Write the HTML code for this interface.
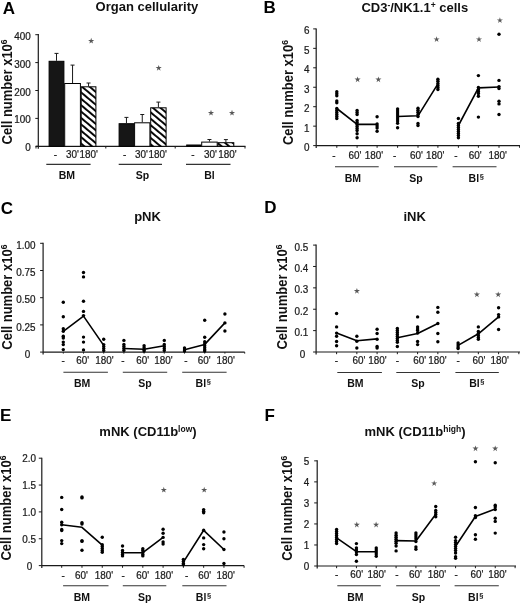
<!DOCTYPE html>
<html><head><meta charset="utf-8"><style>
html,body{margin:0;padding:0;background:#fff;}
svg{display:block;font-family:"Liberation Sans", sans-serif;will-change:transform;}
</style></head><body>
<svg width="520" height="603" viewBox="0 0 520 603">
<defs><filter id="soft" x="0" y="0" width="100%" height="100%" filterUnits="userSpaceOnUse"><feGaussianBlur stdDeviation="0.35"/></filter><pattern id="hatch" patternUnits="userSpaceOnUse" width="4.9" height="4.9" patternTransform="rotate(-50)"><rect width="4.9" height="4.9" fill="#fff"/><rect x="0" y="0" width="1.9" height="4.9" fill="#000"/></pattern></defs>
<rect width="520" height="603" fill="#fff"/>
<g>
<text x="2.70" y="14.10" font-size="17" font-weight="bold" text-anchor="start" fill="#000" >A</text>
<text x="146.90" y="11.40" font-size="13" font-weight="bold" text-anchor="middle" fill="#111" >Organ cellularity</text>
<text transform="translate(11.60,144.50) rotate(-90) scale(1,1.08)" font-size="13" font-weight="bold" fill="#111">Cell number x10<tspan font-size="8.5" dy="-4.5">6</tspan></text>
<line x1="38.30" y1="34.10" x2="38.30" y2="148.80" stroke="#1a1a1a" stroke-width="1.2"/>
<line x1="35.30" y1="34.70" x2="38.30" y2="34.70" stroke="#1a1a1a" stroke-width="1"/>
<text transform="translate(30.80,39.70) scale(0.9,1)" font-size="11" font-weight="normal" text-anchor="end" fill="#1a1a1a" stroke="#1a1a1a" stroke-width="0.25">400</text>
<line x1="35.30" y1="62.60" x2="38.30" y2="62.60" stroke="#1a1a1a" stroke-width="1"/>
<text transform="translate(30.80,67.60) scale(0.9,1)" font-size="11" font-weight="normal" text-anchor="end" fill="#1a1a1a" stroke="#1a1a1a" stroke-width="0.25">300</text>
<line x1="35.30" y1="90.50" x2="38.30" y2="90.50" stroke="#1a1a1a" stroke-width="1"/>
<text transform="translate(30.80,95.50) scale(0.9,1)" font-size="11" font-weight="normal" text-anchor="end" fill="#1a1a1a" stroke="#1a1a1a" stroke-width="0.25">200</text>
<line x1="35.30" y1="118.40" x2="38.30" y2="118.40" stroke="#1a1a1a" stroke-width="1"/>
<text transform="translate(30.80,123.40) scale(0.9,1)" font-size="11" font-weight="normal" text-anchor="end" fill="#1a1a1a" stroke="#1a1a1a" stroke-width="0.25">100</text>
<line x1="35.30" y1="146.30" x2="38.30" y2="146.30" stroke="#1a1a1a" stroke-width="1"/>
<text transform="translate(30.80,151.30) scale(0.9,1)" font-size="11" font-weight="normal" text-anchor="end" fill="#1a1a1a" stroke="#1a1a1a" stroke-width="0.25">0</text>
<line x1="36.00" y1="146.30" x2="245.50" y2="146.30" stroke="#1a1a1a" stroke-width="1.2"/>
<line x1="36.00" y1="146.30" x2="36.00" y2="148.50" stroke="#1a1a1a" stroke-width="1"/>
<line x1="105.80" y1="146.30" x2="105.80" y2="148.50" stroke="#1a1a1a" stroke-width="1"/>
<line x1="175.20" y1="146.30" x2="175.20" y2="148.50" stroke="#1a1a1a" stroke-width="1"/>
<line x1="245.00" y1="146.30" x2="245.00" y2="148.50" stroke="#1a1a1a" stroke-width="1"/>
<rect x="49.10" y="61.30" width="14.80" height="85.00" fill="#161616" stroke="#000" stroke-width="1"/>
<line x1="56.50" y1="53.40" x2="56.50" y2="60.80" stroke="#1a1a1a" stroke-width="1"/>
<line x1="54.50" y1="53.40" x2="58.50" y2="53.40" stroke="#1a1a1a" stroke-width="1"/>
<rect x="64.70" y="83.50" width="15.70" height="62.80" fill="#fff" stroke="#000" stroke-width="1"/>
<line x1="72.55" y1="65.10" x2="72.55" y2="83.00" stroke="#1a1a1a" stroke-width="1"/>
<line x1="70.55" y1="65.10" x2="74.55" y2="65.10" stroke="#1a1a1a" stroke-width="1"/>
<rect x="81.20" y="86.80" width="14.70" height="59.50" fill="url(#hatch)" stroke="#000" stroke-width="1"/>
<line x1="88.55" y1="83.00" x2="88.55" y2="86.30" stroke="#1a1a1a" stroke-width="1"/>
<line x1="86.55" y1="83.00" x2="90.55" y2="83.00" stroke="#1a1a1a" stroke-width="1"/>
<rect x="119.10" y="123.70" width="14.70" height="22.60" fill="#161616" stroke="#000" stroke-width="1"/>
<line x1="126.45" y1="117.40" x2="126.45" y2="123.20" stroke="#1a1a1a" stroke-width="1"/>
<line x1="124.45" y1="117.40" x2="128.45" y2="117.40" stroke="#1a1a1a" stroke-width="1"/>
<rect x="134.60" y="122.80" width="15.30" height="23.50" fill="#fff" stroke="#000" stroke-width="1"/>
<line x1="142.25" y1="114.50" x2="142.25" y2="122.30" stroke="#1a1a1a" stroke-width="1"/>
<line x1="140.25" y1="114.50" x2="144.25" y2="114.50" stroke="#1a1a1a" stroke-width="1"/>
<rect x="150.70" y="107.80" width="15.40" height="38.50" fill="url(#hatch)" stroke="#000" stroke-width="1"/>
<line x1="158.40" y1="102.10" x2="158.40" y2="107.30" stroke="#1a1a1a" stroke-width="1"/>
<line x1="156.40" y1="102.10" x2="160.40" y2="102.10" stroke="#1a1a1a" stroke-width="1"/>
<rect x="186.70" y="145.00" width="14.20" height="1.30" fill="#161616" stroke="#000" stroke-width="1"/>
<rect x="201.70" y="142.10" width="15.50" height="4.20" fill="#fff" stroke="#000" stroke-width="1"/>
<line x1="209.45" y1="139.50" x2="209.45" y2="141.60" stroke="#1a1a1a" stroke-width="1"/>
<line x1="207.45" y1="139.50" x2="211.45" y2="139.50" stroke="#1a1a1a" stroke-width="1"/>
<rect x="218.00" y="142.70" width="15.80" height="3.60" fill="url(#hatch)" stroke="#000" stroke-width="1"/>
<line x1="225.90" y1="139.60" x2="225.90" y2="142.20" stroke="#1a1a1a" stroke-width="1"/>
<line x1="223.90" y1="139.60" x2="227.90" y2="139.60" stroke="#1a1a1a" stroke-width="1"/>
<text transform="translate(55.40,158.30) scale(0.9,1)" font-size="11" font-weight="normal" text-anchor="middle" fill="#1a1a1a" stroke="#1a1a1a" stroke-width="0.25">-</text>
<text transform="translate(72.35,158.30) scale(0.9,1)" font-size="11" font-weight="normal" text-anchor="middle" fill="#1a1a1a" stroke="#1a1a1a" stroke-width="0.25">30'</text>
<text transform="translate(88.80,158.30) scale(0.9,1)" font-size="11" font-weight="normal" text-anchor="middle" fill="#1a1a1a" stroke="#1a1a1a" stroke-width="0.25">180'</text>
<text transform="translate(124.70,158.30) scale(0.9,1)" font-size="11" font-weight="normal" text-anchor="middle" fill="#1a1a1a" stroke="#1a1a1a" stroke-width="0.25">-</text>
<text transform="translate(141.40,158.30) scale(0.9,1)" font-size="11" font-weight="normal" text-anchor="middle" fill="#1a1a1a" stroke="#1a1a1a" stroke-width="0.25">30'</text>
<text transform="translate(157.70,158.30) scale(0.9,1)" font-size="11" font-weight="normal" text-anchor="middle" fill="#1a1a1a" stroke="#1a1a1a" stroke-width="0.25">180'</text>
<text transform="translate(193.00,158.30) scale(0.9,1)" font-size="11" font-weight="normal" text-anchor="middle" fill="#1a1a1a" stroke="#1a1a1a" stroke-width="0.25">-</text>
<text transform="translate(210.35,158.30) scale(0.9,1)" font-size="11" font-weight="normal" text-anchor="middle" fill="#1a1a1a" stroke="#1a1a1a" stroke-width="0.25">30'</text>
<text transform="translate(227.35,158.30) scale(0.9,1)" font-size="11" font-weight="normal" text-anchor="middle" fill="#1a1a1a" stroke="#1a1a1a" stroke-width="0.25">180'</text>
<line x1="46.30" y1="164.40" x2="90.60" y2="164.40" stroke="#333" stroke-width="1.1"/>
<line x1="118.70" y1="164.40" x2="162.00" y2="164.40" stroke="#333" stroke-width="1.1"/>
<line x1="186.00" y1="164.40" x2="230.50" y2="164.40" stroke="#333" stroke-width="1.1"/>
<text x="66.80" y="178.50" font-size="10.5" font-weight="bold" text-anchor="middle" fill="#111" >BM</text>
<text x="142.50" y="178.50" font-size="10.5" font-weight="bold" text-anchor="middle" fill="#111" >Sp</text>
<text x="209.50" y="178.50" font-size="10.5" font-weight="bold" text-anchor="middle" fill="#111" >Bl</text>
<polygon points="91.20,37.80 91.91,40.02 94.24,40.01 92.36,41.38 93.08,43.59 91.20,42.22 89.32,43.59 90.04,41.38 88.16,40.01 90.49,40.02" fill="#585858"/>
<polygon points="158.70,64.90 159.41,67.12 161.74,67.11 159.86,68.48 160.58,70.69 158.70,69.32 156.82,70.69 157.54,68.48 155.66,67.11 157.99,67.12" fill="#585858"/>
<polygon points="211.00,109.80 211.71,112.02 214.04,112.01 212.16,113.38 212.88,115.59 211.00,114.22 209.12,115.59 209.84,113.38 207.96,112.01 210.29,112.02" fill="#585858"/>
<polygon points="232.00,109.80 232.71,112.02 235.04,112.01 233.16,113.38 233.88,115.59 232.00,114.22 230.12,115.59 230.84,113.38 228.96,112.01 231.29,112.02" fill="#585858"/>
<text x="263.50" y="13.00" font-size="17" font-weight="bold" text-anchor="start" fill="#000" >B</text>
<text x="414.80" y="12.20" font-size="13" font-weight="bold" text-anchor="middle" fill="#111" >CD3<tspan font-size="8.5" dy="-4.5">-</tspan><tspan dy="4.5">/NK1.1</tspan><tspan font-size="8.5" dy="-4.5">+</tspan><tspan dy="4.5"> cells</tspan></text>
<text transform="translate(293.00,145.10) rotate(-90) scale(1,1.08)" font-size="13" font-weight="bold" fill="#111">Cell number x10<tspan font-size="8.5" dy="-4.5">6</tspan></text>
<line x1="316.20" y1="28.40" x2="316.20" y2="148.10" stroke="#1a1a1a" stroke-width="1.2"/>
<line x1="313.20" y1="28.90" x2="316.20" y2="28.90" stroke="#1a1a1a" stroke-width="1"/>
<text transform="translate(309.40,34.40) scale(0.9,1)" font-size="11" font-weight="normal" text-anchor="end" fill="#1a1a1a" stroke="#1a1a1a" stroke-width="0.25">6</text>
<line x1="313.20" y1="48.35" x2="316.20" y2="48.35" stroke="#1a1a1a" stroke-width="1"/>
<text transform="translate(309.40,53.85) scale(0.9,1)" font-size="11" font-weight="normal" text-anchor="end" fill="#1a1a1a" stroke="#1a1a1a" stroke-width="0.25">5</text>
<line x1="313.20" y1="67.80" x2="316.20" y2="67.80" stroke="#1a1a1a" stroke-width="1"/>
<text transform="translate(309.40,73.30) scale(0.9,1)" font-size="11" font-weight="normal" text-anchor="end" fill="#1a1a1a" stroke="#1a1a1a" stroke-width="0.25">4</text>
<line x1="313.20" y1="87.25" x2="316.20" y2="87.25" stroke="#1a1a1a" stroke-width="1"/>
<text transform="translate(309.40,92.75) scale(0.9,1)" font-size="11" font-weight="normal" text-anchor="end" fill="#1a1a1a" stroke="#1a1a1a" stroke-width="0.25">3</text>
<line x1="313.20" y1="106.70" x2="316.20" y2="106.70" stroke="#1a1a1a" stroke-width="1"/>
<text transform="translate(309.40,112.20) scale(0.9,1)" font-size="11" font-weight="normal" text-anchor="end" fill="#1a1a1a" stroke="#1a1a1a" stroke-width="0.25">2</text>
<line x1="313.20" y1="126.15" x2="316.20" y2="126.15" stroke="#1a1a1a" stroke-width="1"/>
<text transform="translate(309.40,131.65) scale(0.9,1)" font-size="11" font-weight="normal" text-anchor="end" fill="#1a1a1a" stroke="#1a1a1a" stroke-width="0.25">1</text>
<line x1="313.20" y1="145.60" x2="316.20" y2="145.60" stroke="#1a1a1a" stroke-width="1"/>
<text transform="translate(309.40,151.10) scale(0.9,1)" font-size="11" font-weight="normal" text-anchor="end" fill="#1a1a1a" stroke="#1a1a1a" stroke-width="0.25">0</text>
<line x1="316.20" y1="145.60" x2="520.00" y2="145.60" stroke="#1a1a1a" stroke-width="1.2"/>
<line x1="336.80" y1="145.60" x2="336.80" y2="147.80" stroke="#1a1a1a" stroke-width="1"/>
<line x1="357.10" y1="145.60" x2="357.10" y2="147.80" stroke="#1a1a1a" stroke-width="1"/>
<line x1="377.10" y1="145.60" x2="377.10" y2="147.80" stroke="#1a1a1a" stroke-width="1"/>
<line x1="397.60" y1="145.60" x2="397.60" y2="147.80" stroke="#1a1a1a" stroke-width="1"/>
<line x1="418.00" y1="145.60" x2="418.00" y2="147.80" stroke="#1a1a1a" stroke-width="1"/>
<line x1="437.90" y1="145.60" x2="437.90" y2="147.80" stroke="#1a1a1a" stroke-width="1"/>
<line x1="458.40" y1="145.60" x2="458.40" y2="147.80" stroke="#1a1a1a" stroke-width="1"/>
<line x1="478.40" y1="145.60" x2="478.40" y2="147.80" stroke="#1a1a1a" stroke-width="1"/>
<line x1="499.00" y1="145.60" x2="499.00" y2="147.80" stroke="#1a1a1a" stroke-width="1"/>
<line x1="519.60" y1="145.60" x2="519.60" y2="147.80" stroke="#1a1a1a" stroke-width="1"/>
<text transform="translate(334.00,159.20) scale(0.9,1)" font-size="11" font-weight="normal" text-anchor="middle" fill="#1a1a1a" stroke="#1a1a1a" stroke-width="0.25">-</text>
<text transform="translate(355.05,159.20) scale(0.9,1)" font-size="11" font-weight="normal" text-anchor="middle" fill="#1a1a1a" stroke="#1a1a1a" stroke-width="0.25">60'</text>
<text transform="translate(373.85,159.20) scale(0.9,1)" font-size="11" font-weight="normal" text-anchor="middle" fill="#1a1a1a" stroke="#1a1a1a" stroke-width="0.25">180'</text>
<text transform="translate(394.60,159.20) scale(0.9,1)" font-size="11" font-weight="normal" text-anchor="middle" fill="#1a1a1a" stroke="#1a1a1a" stroke-width="0.25">-</text>
<text transform="translate(416.40,159.20) scale(0.9,1)" font-size="11" font-weight="normal" text-anchor="middle" fill="#1a1a1a" stroke="#1a1a1a" stroke-width="0.25">60'</text>
<text transform="translate(435.20,159.20) scale(0.9,1)" font-size="11" font-weight="normal" text-anchor="middle" fill="#1a1a1a" stroke="#1a1a1a" stroke-width="0.25">180'</text>
<text transform="translate(455.80,159.20) scale(0.9,1)" font-size="11" font-weight="normal" text-anchor="middle" fill="#1a1a1a" stroke="#1a1a1a" stroke-width="0.25">-</text>
<text transform="translate(475.30,159.20) scale(0.9,1)" font-size="11" font-weight="normal" text-anchor="middle" fill="#1a1a1a" stroke="#1a1a1a" stroke-width="0.25">60'</text>
<text transform="translate(497.70,159.20) scale(0.9,1)" font-size="11" font-weight="normal" text-anchor="middle" fill="#1a1a1a" stroke="#1a1a1a" stroke-width="0.25">180'</text>
<line x1="335.00" y1="166.70" x2="378.70" y2="166.70" stroke="#333" stroke-width="1.1"/>
<line x1="394.00" y1="166.70" x2="437.40" y2="166.70" stroke="#333" stroke-width="1.1"/>
<line x1="452.60" y1="166.70" x2="496.50" y2="166.70" stroke="#333" stroke-width="1.1"/>
<text x="352.90" y="181.70" font-size="10.5" font-weight="bold" text-anchor="middle" fill="#111" >BM</text>
<text x="415.90" y="181.70" font-size="10.5" font-weight="bold" text-anchor="middle" fill="#111" >Sp</text>
<text x="476.20" y="181.70" font-size="10.5" font-weight="bold" text-anchor="middle" fill="#111">Bl<tspan font-size="7.5" dy="-2.6" dx="0.6">§</tspan></text>
<polyline points="336.80,108.50 357.10,124.40 377.10,124.40" fill="none" stroke="#000" stroke-width="1.6" stroke-linejoin="round"/>
<polyline points="397.60,116.50 418.00,115.80 437.90,83.90" fill="none" stroke="#000" stroke-width="1.6" stroke-linejoin="round"/>
<polyline points="458.40,125.50 478.40,87.90 499.00,87.00" fill="none" stroke="#000" stroke-width="1.6" stroke-linejoin="round"/>
<circle cx="336.80" cy="91.80" r="1.7" fill="#000"/>
<circle cx="336.80" cy="93.80" r="1.7" fill="#000"/>
<circle cx="336.80" cy="95.80" r="1.7" fill="#000"/>
<circle cx="336.80" cy="101.00" r="1.7" fill="#000"/>
<circle cx="336.80" cy="102.80" r="1.7" fill="#000"/>
<circle cx="336.80" cy="108.50" r="1.7" fill="#000"/>
<circle cx="336.80" cy="110.50" r="1.7" fill="#000"/>
<circle cx="336.80" cy="112.50" r="1.7" fill="#000"/>
<circle cx="336.80" cy="114.50" r="1.7" fill="#000"/>
<circle cx="336.80" cy="116.50" r="1.7" fill="#000"/>
<circle cx="336.80" cy="118.50" r="1.7" fill="#000"/>
<circle cx="357.10" cy="110.50" r="1.7" fill="#000"/>
<circle cx="357.10" cy="112.50" r="1.7" fill="#000"/>
<circle cx="357.10" cy="114.50" r="1.7" fill="#000"/>
<circle cx="357.10" cy="120.50" r="1.7" fill="#000"/>
<circle cx="357.10" cy="122.50" r="1.7" fill="#000"/>
<circle cx="357.10" cy="124.50" r="1.7" fill="#000"/>
<circle cx="357.10" cy="126.50" r="1.7" fill="#000"/>
<circle cx="357.10" cy="128.50" r="1.7" fill="#000"/>
<circle cx="357.10" cy="130.50" r="1.7" fill="#000"/>
<circle cx="357.10" cy="133.70" r="1.7" fill="#000"/>
<circle cx="357.10" cy="137.70" r="1.7" fill="#000"/>
<circle cx="377.10" cy="116.70" r="1.7" fill="#000"/>
<circle cx="377.10" cy="124.00" r="1.7" fill="#000"/>
<circle cx="377.10" cy="126.00" r="1.7" fill="#000"/>
<circle cx="377.10" cy="128.00" r="1.7" fill="#000"/>
<circle cx="377.10" cy="131.30" r="1.7" fill="#000"/>
<circle cx="397.60" cy="109.00" r="1.7" fill="#000"/>
<circle cx="397.60" cy="111.00" r="1.7" fill="#000"/>
<circle cx="397.60" cy="113.00" r="1.7" fill="#000"/>
<circle cx="397.60" cy="115.00" r="1.7" fill="#000"/>
<circle cx="397.60" cy="117.00" r="1.7" fill="#000"/>
<circle cx="397.60" cy="119.00" r="1.7" fill="#000"/>
<circle cx="397.60" cy="121.00" r="1.7" fill="#000"/>
<circle cx="397.60" cy="123.30" r="1.7" fill="#000"/>
<circle cx="397.60" cy="127.70" r="1.7" fill="#000"/>
<circle cx="418.00" cy="108.30" r="1.7" fill="#000"/>
<circle cx="418.00" cy="110.30" r="1.7" fill="#000"/>
<circle cx="418.00" cy="112.30" r="1.7" fill="#000"/>
<circle cx="418.00" cy="114.50" r="1.7" fill="#000"/>
<circle cx="418.00" cy="116.60" r="1.7" fill="#000"/>
<circle cx="418.00" cy="123.50" r="1.7" fill="#000"/>
<circle cx="418.00" cy="125.50" r="1.7" fill="#000"/>
<circle cx="437.90" cy="79.20" r="1.7" fill="#000"/>
<circle cx="437.90" cy="81.20" r="1.7" fill="#000"/>
<circle cx="437.90" cy="83.50" r="1.7" fill="#000"/>
<circle cx="437.90" cy="85.50" r="1.7" fill="#000"/>
<circle cx="437.90" cy="87.50" r="1.7" fill="#000"/>
<circle cx="437.90" cy="89.50" r="1.7" fill="#000"/>
<circle cx="458.40" cy="118.50" r="1.7" fill="#000"/>
<circle cx="458.40" cy="123.50" r="1.7" fill="#000"/>
<circle cx="458.40" cy="125.50" r="1.7" fill="#000"/>
<circle cx="458.40" cy="127.50" r="1.7" fill="#000"/>
<circle cx="458.40" cy="129.50" r="1.7" fill="#000"/>
<circle cx="458.40" cy="131.50" r="1.7" fill="#000"/>
<circle cx="458.40" cy="133.50" r="1.7" fill="#000"/>
<circle cx="458.40" cy="135.50" r="1.7" fill="#000"/>
<circle cx="458.40" cy="137.80" r="1.7" fill="#000"/>
<circle cx="478.40" cy="75.60" r="1.7" fill="#000"/>
<circle cx="478.40" cy="87.50" r="1.7" fill="#000"/>
<circle cx="478.40" cy="89.50" r="1.7" fill="#000"/>
<circle cx="478.40" cy="91.50" r="1.7" fill="#000"/>
<circle cx="478.40" cy="93.50" r="1.7" fill="#000"/>
<circle cx="478.40" cy="96.30" r="1.7" fill="#000"/>
<circle cx="478.40" cy="117.10" r="1.7" fill="#000"/>
<circle cx="499.00" cy="34.30" r="1.7" fill="#000"/>
<circle cx="499.00" cy="80.40" r="1.7" fill="#000"/>
<circle cx="499.00" cy="86.60" r="1.7" fill="#000"/>
<circle cx="499.00" cy="88.50" r="1.7" fill="#000"/>
<circle cx="499.00" cy="101.20" r="1.7" fill="#000"/>
<circle cx="499.00" cy="103.90" r="1.7" fill="#000"/>
<circle cx="499.00" cy="114.50" r="1.7" fill="#000"/>
<polygon points="357.60,76.40 358.31,78.62 360.64,78.61 358.76,79.98 359.48,82.19 357.60,80.82 355.72,82.19 356.44,79.98 354.56,78.61 356.89,78.62" fill="#585858"/>
<polygon points="378.40,76.40 379.11,78.62 381.44,78.61 379.56,79.98 380.28,82.19 378.40,80.82 376.52,82.19 377.24,79.98 375.36,78.61 377.69,78.62" fill="#585858"/>
<polygon points="436.60,36.20 437.31,38.42 439.64,38.41 437.76,39.78 438.48,41.99 436.60,40.62 434.72,41.99 435.44,39.78 433.56,38.41 435.89,38.42" fill="#585858"/>
<polygon points="479.00,36.20 479.71,38.42 482.04,38.41 480.16,39.78 480.88,41.99 479.00,40.62 477.12,41.99 477.84,39.78 475.96,38.41 478.29,38.42" fill="#585858"/>
<polygon points="499.90,17.20 500.61,19.42 502.94,19.41 501.06,20.78 501.78,22.99 499.90,21.62 498.02,22.99 498.74,20.78 496.86,19.41 499.19,19.42" fill="#585858"/>
<text x="0.80" y="214.20" font-size="17" font-weight="bold" text-anchor="start" fill="#000" >C</text>
<text x="147.50" y="221.20" font-size="13" font-weight="bold" text-anchor="middle" fill="#111" >pNK</text>
<text transform="translate(11.50,349.70) rotate(-90) scale(1,1.08)" font-size="13" font-weight="bold" fill="#111">Cell number x10<tspan font-size="8.5" dy="-4.5">6</tspan></text>
<line x1="43.10" y1="242.80" x2="43.10" y2="354.60" stroke="#1a1a1a" stroke-width="1.2"/>
<line x1="40.10" y1="243.30" x2="43.10" y2="243.30" stroke="#1a1a1a" stroke-width="1"/>
<text transform="translate(35.50,249.00) scale(0.9,1)" font-size="11" font-weight="normal" text-anchor="end" fill="#1a1a1a" stroke="#1a1a1a" stroke-width="0.25">1.00</text>
<line x1="40.10" y1="270.50" x2="43.10" y2="270.50" stroke="#1a1a1a" stroke-width="1"/>
<text transform="translate(35.50,276.20) scale(0.9,1)" font-size="11" font-weight="normal" text-anchor="end" fill="#1a1a1a" stroke="#1a1a1a" stroke-width="0.25">0.75</text>
<line x1="40.10" y1="297.70" x2="43.10" y2="297.70" stroke="#1a1a1a" stroke-width="1"/>
<text transform="translate(35.50,303.40) scale(0.9,1)" font-size="11" font-weight="normal" text-anchor="end" fill="#1a1a1a" stroke="#1a1a1a" stroke-width="0.25">0.50</text>
<line x1="40.10" y1="324.90" x2="43.10" y2="324.90" stroke="#1a1a1a" stroke-width="1"/>
<text transform="translate(35.50,330.60) scale(0.9,1)" font-size="11" font-weight="normal" text-anchor="end" fill="#1a1a1a" stroke="#1a1a1a" stroke-width="0.25">0.25</text>
<line x1="40.10" y1="352.10" x2="43.10" y2="352.10" stroke="#1a1a1a" stroke-width="1"/>
<text transform="translate(27.60,357.80) scale(0.9,1)" font-size="11" font-weight="normal" text-anchor="middle" fill="#1a1a1a" stroke="#1a1a1a" stroke-width="0.25">0</text>
<line x1="43.10" y1="352.10" x2="244.70" y2="352.10" stroke="#1a1a1a" stroke-width="1.2"/>
<line x1="63.30" y1="352.10" x2="63.30" y2="353.60" stroke="#1a1a1a" stroke-width="1"/>
<line x1="83.50" y1="352.10" x2="83.50" y2="353.60" stroke="#1a1a1a" stroke-width="1"/>
<line x1="103.70" y1="352.10" x2="103.70" y2="353.60" stroke="#1a1a1a" stroke-width="1"/>
<line x1="123.90" y1="352.10" x2="123.90" y2="353.60" stroke="#1a1a1a" stroke-width="1"/>
<line x1="144.10" y1="352.10" x2="144.10" y2="353.60" stroke="#1a1a1a" stroke-width="1"/>
<line x1="164.30" y1="352.10" x2="164.30" y2="353.60" stroke="#1a1a1a" stroke-width="1"/>
<line x1="184.50" y1="352.10" x2="184.50" y2="353.60" stroke="#1a1a1a" stroke-width="1"/>
<line x1="204.70" y1="352.10" x2="204.70" y2="353.60" stroke="#1a1a1a" stroke-width="1"/>
<line x1="224.90" y1="352.10" x2="224.90" y2="353.60" stroke="#1a1a1a" stroke-width="1"/>
<line x1="244.70" y1="352.10" x2="244.70" y2="353.60" stroke="#1a1a1a" stroke-width="1"/>
<text transform="translate(63.10,363.80) scale(0.9,1)" font-size="11" font-weight="normal" text-anchor="middle" fill="#1a1a1a" stroke="#1a1a1a" stroke-width="0.25">-</text>
<text transform="translate(82.70,363.80) scale(0.9,1)" font-size="11" font-weight="normal" text-anchor="middle" fill="#1a1a1a" stroke="#1a1a1a" stroke-width="0.25">60'</text>
<text transform="translate(104.50,363.80) scale(0.9,1)" font-size="11" font-weight="normal" text-anchor="middle" fill="#1a1a1a" stroke="#1a1a1a" stroke-width="0.25">180'</text>
<text transform="translate(122.90,363.80) scale(0.9,1)" font-size="11" font-weight="normal" text-anchor="middle" fill="#1a1a1a" stroke="#1a1a1a" stroke-width="0.25">-</text>
<text transform="translate(142.60,363.80) scale(0.9,1)" font-size="11" font-weight="normal" text-anchor="middle" fill="#1a1a1a" stroke="#1a1a1a" stroke-width="0.25">60'</text>
<text transform="translate(163.50,363.80) scale(0.9,1)" font-size="11" font-weight="normal" text-anchor="middle" fill="#1a1a1a" stroke="#1a1a1a" stroke-width="0.25">180'</text>
<text transform="translate(185.90,363.80) scale(0.9,1)" font-size="11" font-weight="normal" text-anchor="middle" fill="#1a1a1a" stroke="#1a1a1a" stroke-width="0.25">-</text>
<text transform="translate(204.30,363.80) scale(0.9,1)" font-size="11" font-weight="normal" text-anchor="middle" fill="#1a1a1a" stroke="#1a1a1a" stroke-width="0.25">60'</text>
<text transform="translate(225.80,363.80) scale(0.9,1)" font-size="11" font-weight="normal" text-anchor="middle" fill="#1a1a1a" stroke="#1a1a1a" stroke-width="0.25">180'</text>
<line x1="63.40" y1="372.20" x2="107.90" y2="372.20" stroke="#333" stroke-width="1.1"/>
<line x1="122.80" y1="372.20" x2="167.20" y2="372.20" stroke="#333" stroke-width="1.1"/>
<line x1="182.20" y1="372.20" x2="226.60" y2="372.20" stroke="#333" stroke-width="1.1"/>
<text x="82.20" y="386.90" font-size="10.5" font-weight="bold" text-anchor="middle" fill="#111" >BM</text>
<text x="145.00" y="386.90" font-size="10.5" font-weight="bold" text-anchor="middle" fill="#111" >Sp</text>
<text x="203.20" y="386.90" font-size="10.5" font-weight="bold" text-anchor="middle" fill="#111">Bl<tspan font-size="7.5" dy="-2.6" dx="0.6">§</tspan></text>
<polyline points="63.30,331.30 83.50,316.10 103.70,345.40" fill="none" stroke="#000" stroke-width="1.6" stroke-linejoin="round"/>
<polyline points="123.90,348.50 144.10,349.30 164.30,345.80" fill="none" stroke="#000" stroke-width="1.6" stroke-linejoin="round"/>
<polyline points="184.50,349.80 204.70,344.40 224.90,322.90" fill="none" stroke="#000" stroke-width="1.6" stroke-linejoin="round"/>
<circle cx="63.30" cy="302.30" r="1.7" fill="#000"/>
<circle cx="63.30" cy="316.70" r="1.7" fill="#000"/>
<circle cx="63.30" cy="328.80" r="1.7" fill="#000"/>
<circle cx="63.30" cy="331.30" r="1.7" fill="#000"/>
<circle cx="63.30" cy="336.30" r="1.7" fill="#000"/>
<circle cx="63.30" cy="338.00" r="1.7" fill="#000"/>
<circle cx="63.30" cy="342.10" r="1.7" fill="#000"/>
<circle cx="63.30" cy="344.60" r="1.7" fill="#000"/>
<circle cx="63.30" cy="349.60" r="1.7" fill="#000"/>
<circle cx="83.50" cy="272.50" r="1.7" fill="#000"/>
<circle cx="83.50" cy="276.90" r="1.7" fill="#000"/>
<circle cx="83.50" cy="301.20" r="1.7" fill="#000"/>
<circle cx="83.50" cy="311.40" r="1.7" fill="#000"/>
<circle cx="83.50" cy="315.60" r="1.7" fill="#000"/>
<circle cx="83.50" cy="337.10" r="1.7" fill="#000"/>
<circle cx="83.50" cy="342.10" r="1.7" fill="#000"/>
<circle cx="83.50" cy="349.90" r="1.7" fill="#000"/>
<circle cx="103.70" cy="339.30" r="1.7" fill="#000"/>
<circle cx="103.70" cy="344.60" r="1.7" fill="#000"/>
<circle cx="103.70" cy="346.60" r="1.7" fill="#000"/>
<circle cx="103.70" cy="348.60" r="1.7" fill="#000"/>
<circle cx="103.70" cy="350.60" r="1.7" fill="#000"/>
<circle cx="123.90" cy="340.40" r="1.7" fill="#000"/>
<circle cx="123.90" cy="344.40" r="1.7" fill="#000"/>
<circle cx="123.90" cy="346.40" r="1.7" fill="#000"/>
<circle cx="123.90" cy="348.40" r="1.7" fill="#000"/>
<circle cx="123.90" cy="350.40" r="1.7" fill="#000"/>
<circle cx="144.10" cy="345.80" r="1.7" fill="#000"/>
<circle cx="144.10" cy="347.80" r="1.7" fill="#000"/>
<circle cx="144.10" cy="349.80" r="1.7" fill="#000"/>
<circle cx="144.10" cy="351.00" r="1.7" fill="#000"/>
<circle cx="164.30" cy="340.40" r="1.7" fill="#000"/>
<circle cx="164.30" cy="344.40" r="1.7" fill="#000"/>
<circle cx="164.30" cy="346.40" r="1.7" fill="#000"/>
<circle cx="164.30" cy="348.40" r="1.7" fill="#000"/>
<circle cx="164.30" cy="350.40" r="1.7" fill="#000"/>
<circle cx="184.50" cy="347.90" r="1.7" fill="#000"/>
<circle cx="184.50" cy="349.90" r="1.7" fill="#000"/>
<circle cx="184.50" cy="351.00" r="1.7" fill="#000"/>
<circle cx="204.70" cy="320.20" r="1.7" fill="#000"/>
<circle cx="204.70" cy="337.20" r="1.7" fill="#000"/>
<circle cx="204.70" cy="341.70" r="1.7" fill="#000"/>
<circle cx="204.70" cy="343.70" r="1.7" fill="#000"/>
<circle cx="204.70" cy="345.70" r="1.7" fill="#000"/>
<circle cx="204.70" cy="347.70" r="1.7" fill="#000"/>
<circle cx="204.70" cy="349.70" r="1.7" fill="#000"/>
<circle cx="204.70" cy="351.00" r="1.7" fill="#000"/>
<circle cx="224.90" cy="314.00" r="1.7" fill="#000"/>
<circle cx="224.90" cy="322.90" r="1.7" fill="#000"/>
<circle cx="224.90" cy="331.00" r="1.7" fill="#000"/>
<text x="264.20" y="212.60" font-size="17" font-weight="bold" text-anchor="start" fill="#000" >D</text>
<text x="414.60" y="221.40" font-size="13" font-weight="bold" text-anchor="middle" fill="#111" >iNK</text>
<text transform="translate(286.80,349.60) rotate(-90) scale(1,1.08)" font-size="13" font-weight="bold" fill="#111">Cell number x10<tspan font-size="8.5" dy="-4.5">6</tspan></text>
<line x1="316.10" y1="244.60" x2="316.10" y2="354.50" stroke="#1a1a1a" stroke-width="1.2"/>
<line x1="313.10" y1="245.10" x2="316.10" y2="245.10" stroke="#1a1a1a" stroke-width="1"/>
<text transform="translate(308.30,250.60) scale(0.9,1)" font-size="11" font-weight="normal" text-anchor="end" fill="#1a1a1a" stroke="#1a1a1a" stroke-width="0.25">0.5</text>
<line x1="313.10" y1="266.48" x2="316.10" y2="266.48" stroke="#1a1a1a" stroke-width="1"/>
<text transform="translate(308.30,271.98) scale(0.9,1)" font-size="11" font-weight="normal" text-anchor="end" fill="#1a1a1a" stroke="#1a1a1a" stroke-width="0.25">0.4</text>
<line x1="313.10" y1="287.86" x2="316.10" y2="287.86" stroke="#1a1a1a" stroke-width="1"/>
<text transform="translate(308.30,293.36) scale(0.9,1)" font-size="11" font-weight="normal" text-anchor="end" fill="#1a1a1a" stroke="#1a1a1a" stroke-width="0.25">0.3</text>
<line x1="313.10" y1="309.24" x2="316.10" y2="309.24" stroke="#1a1a1a" stroke-width="1"/>
<text transform="translate(308.30,314.74) scale(0.9,1)" font-size="11" font-weight="normal" text-anchor="end" fill="#1a1a1a" stroke="#1a1a1a" stroke-width="0.25">0.2</text>
<line x1="313.10" y1="330.62" x2="316.10" y2="330.62" stroke="#1a1a1a" stroke-width="1"/>
<text transform="translate(308.30,336.12) scale(0.9,1)" font-size="11" font-weight="normal" text-anchor="end" fill="#1a1a1a" stroke="#1a1a1a" stroke-width="0.25">0.1</text>
<line x1="313.10" y1="352.00" x2="316.10" y2="352.00" stroke="#1a1a1a" stroke-width="1"/>
<text transform="translate(302.50,357.50) scale(0.9,1)" font-size="11" font-weight="normal" text-anchor="middle" fill="#1a1a1a" stroke="#1a1a1a" stroke-width="0.25">0</text>
<line x1="316.10" y1="352.00" x2="520.00" y2="352.00" stroke="#1a1a1a" stroke-width="1.2"/>
<line x1="336.60" y1="352.00" x2="336.60" y2="354.20" stroke="#1a1a1a" stroke-width="1"/>
<line x1="356.85" y1="352.00" x2="356.85" y2="354.20" stroke="#1a1a1a" stroke-width="1"/>
<line x1="377.10" y1="352.00" x2="377.10" y2="354.20" stroke="#1a1a1a" stroke-width="1"/>
<line x1="397.35" y1="352.00" x2="397.35" y2="354.20" stroke="#1a1a1a" stroke-width="1"/>
<line x1="417.60" y1="352.00" x2="417.60" y2="354.20" stroke="#1a1a1a" stroke-width="1"/>
<line x1="437.85" y1="352.00" x2="437.85" y2="354.20" stroke="#1a1a1a" stroke-width="1"/>
<line x1="458.10" y1="352.00" x2="458.10" y2="354.20" stroke="#1a1a1a" stroke-width="1"/>
<line x1="478.35" y1="352.00" x2="478.35" y2="354.20" stroke="#1a1a1a" stroke-width="1"/>
<line x1="498.60" y1="352.00" x2="498.60" y2="354.20" stroke="#1a1a1a" stroke-width="1"/>
<line x1="518.85" y1="352.00" x2="518.85" y2="354.20" stroke="#1a1a1a" stroke-width="1"/>
<text transform="translate(336.50,363.60) scale(0.9,1)" font-size="11" font-weight="normal" text-anchor="middle" fill="#1a1a1a" stroke="#1a1a1a" stroke-width="0.25">-</text>
<text transform="translate(358.85,363.60) scale(0.9,1)" font-size="11" font-weight="normal" text-anchor="middle" fill="#1a1a1a" stroke="#1a1a1a" stroke-width="0.25">60'</text>
<text transform="translate(377.35,363.60) scale(0.9,1)" font-size="11" font-weight="normal" text-anchor="middle" fill="#1a1a1a" stroke="#1a1a1a" stroke-width="0.25">180'</text>
<text transform="translate(397.30,363.60) scale(0.9,1)" font-size="11" font-weight="normal" text-anchor="middle" fill="#1a1a1a" stroke="#1a1a1a" stroke-width="0.25">-</text>
<text transform="translate(419.80,363.60) scale(0.9,1)" font-size="11" font-weight="normal" text-anchor="middle" fill="#1a1a1a" stroke="#1a1a1a" stroke-width="0.25">60'</text>
<text transform="translate(437.50,363.60) scale(0.9,1)" font-size="11" font-weight="normal" text-anchor="middle" fill="#1a1a1a" stroke="#1a1a1a" stroke-width="0.25">180'</text>
<text transform="translate(458.20,363.60) scale(0.9,1)" font-size="11" font-weight="normal" text-anchor="middle" fill="#1a1a1a" stroke="#1a1a1a" stroke-width="0.25">-</text>
<text transform="translate(479.05,363.60) scale(0.9,1)" font-size="11" font-weight="normal" text-anchor="middle" fill="#1a1a1a" stroke="#1a1a1a" stroke-width="0.25">60'</text>
<text transform="translate(499.65,363.60) scale(0.9,1)" font-size="11" font-weight="normal" text-anchor="middle" fill="#1a1a1a" stroke="#1a1a1a" stroke-width="0.25">180'</text>
<line x1="337.30" y1="372.50" x2="381.90" y2="372.50" stroke="#333" stroke-width="1.1"/>
<line x1="396.30" y1="372.50" x2="440.00" y2="372.50" stroke="#333" stroke-width="1.1"/>
<line x1="455.40" y1="372.50" x2="498.80" y2="372.50" stroke="#333" stroke-width="1.1"/>
<text x="355.40" y="387.00" font-size="10.5" font-weight="bold" text-anchor="middle" fill="#111" >BM</text>
<text x="418.00" y="387.00" font-size="10.5" font-weight="bold" text-anchor="middle" fill="#111" >Sp</text>
<text x="476.90" y="387.00" font-size="10.5" font-weight="bold" text-anchor="middle" fill="#111">Bl<tspan font-size="7.5" dy="-2.6" dx="0.6">§</tspan></text>
<polyline points="336.60,333.10 356.85,340.80 377.10,338.90" fill="none" stroke="#000" stroke-width="1.6" stroke-linejoin="round"/>
<polyline points="397.35,337.70 417.60,333.50 437.85,323.50" fill="none" stroke="#000" stroke-width="1.6" stroke-linejoin="round"/>
<polyline points="458.10,345.40 478.35,333.80 498.60,316.90" fill="none" stroke="#000" stroke-width="1.6" stroke-linejoin="round"/>
<circle cx="336.60" cy="313.50" r="1.7" fill="#000"/>
<circle cx="336.60" cy="326.90" r="1.7" fill="#000"/>
<circle cx="336.60" cy="333.10" r="1.7" fill="#000"/>
<circle cx="336.60" cy="336.20" r="1.7" fill="#000"/>
<circle cx="336.60" cy="341.50" r="1.7" fill="#000"/>
<circle cx="336.60" cy="345.80" r="1.7" fill="#000"/>
<circle cx="356.85" cy="336.20" r="1.7" fill="#000"/>
<circle cx="356.85" cy="341.20" r="1.7" fill="#000"/>
<circle cx="356.85" cy="348.00" r="1.7" fill="#000"/>
<circle cx="377.10" cy="329.20" r="1.7" fill="#000"/>
<circle cx="377.10" cy="333.50" r="1.7" fill="#000"/>
<circle cx="377.10" cy="339.20" r="1.7" fill="#000"/>
<circle cx="377.10" cy="346.50" r="1.7" fill="#000"/>
<circle cx="377.10" cy="348.00" r="1.7" fill="#000"/>
<circle cx="397.35" cy="328.50" r="1.7" fill="#000"/>
<circle cx="397.35" cy="330.50" r="1.7" fill="#000"/>
<circle cx="397.35" cy="332.50" r="1.7" fill="#000"/>
<circle cx="397.35" cy="334.50" r="1.7" fill="#000"/>
<circle cx="397.35" cy="336.50" r="1.7" fill="#000"/>
<circle cx="397.35" cy="338.50" r="1.7" fill="#000"/>
<circle cx="397.35" cy="340.50" r="1.7" fill="#000"/>
<circle cx="397.35" cy="342.30" r="1.7" fill="#000"/>
<circle cx="397.35" cy="346.50" r="1.7" fill="#000"/>
<circle cx="417.60" cy="316.90" r="1.7" fill="#000"/>
<circle cx="417.60" cy="326.90" r="1.7" fill="#000"/>
<circle cx="417.60" cy="328.90" r="1.7" fill="#000"/>
<circle cx="417.60" cy="330.50" r="1.7" fill="#000"/>
<circle cx="417.60" cy="333.10" r="1.7" fill="#000"/>
<circle cx="417.60" cy="341.50" r="1.7" fill="#000"/>
<circle cx="417.60" cy="344.60" r="1.7" fill="#000"/>
<circle cx="437.85" cy="307.40" r="1.7" fill="#000"/>
<circle cx="437.85" cy="312.30" r="1.7" fill="#000"/>
<circle cx="437.85" cy="323.50" r="1.7" fill="#000"/>
<circle cx="437.85" cy="333.50" r="1.7" fill="#000"/>
<circle cx="437.85" cy="341.80" r="1.7" fill="#000"/>
<circle cx="458.10" cy="343.00" r="1.7" fill="#000"/>
<circle cx="458.10" cy="345.00" r="1.7" fill="#000"/>
<circle cx="458.10" cy="347.00" r="1.7" fill="#000"/>
<circle cx="458.10" cy="348.50" r="1.7" fill="#000"/>
<circle cx="478.35" cy="326.90" r="1.7" fill="#000"/>
<circle cx="478.35" cy="331.50" r="1.7" fill="#000"/>
<circle cx="478.35" cy="333.50" r="1.7" fill="#000"/>
<circle cx="478.35" cy="335.50" r="1.7" fill="#000"/>
<circle cx="478.35" cy="337.50" r="1.7" fill="#000"/>
<circle cx="478.35" cy="339.20" r="1.7" fill="#000"/>
<circle cx="498.60" cy="307.70" r="1.7" fill="#000"/>
<circle cx="498.60" cy="314.60" r="1.7" fill="#000"/>
<circle cx="498.60" cy="316.90" r="1.7" fill="#000"/>
<circle cx="498.60" cy="329.50" r="1.7" fill="#000"/>
<polygon points="356.90,287.90 357.61,290.12 359.94,290.11 358.06,291.48 358.78,293.69 356.90,292.32 355.02,293.69 355.74,291.48 353.86,290.11 356.19,290.12" fill="#585858"/>
<polygon points="476.90,291.40 477.61,293.62 479.94,293.61 478.06,294.98 478.78,297.19 476.90,295.82 475.02,297.19 475.74,294.98 473.86,293.61 476.19,293.62" fill="#585858"/>
<polygon points="498.20,291.40 498.91,293.62 501.24,293.61 499.36,294.98 500.08,297.19 498.20,295.82 496.32,297.19 497.04,294.98 495.16,293.61 497.49,293.62" fill="#585858"/>
<text x="0.00" y="420.70" font-size="17" font-weight="bold" text-anchor="start" fill="#000" >E</text>
<text x="148.00" y="436.20" font-size="13" font-weight="bold" text-anchor="middle" fill="#111" >mNK (CD11b<tspan font-size="8.5" dy="-4.5">low</tspan><tspan dy="4.5">)</tspan></text>
<text transform="translate(11.30,560.60) rotate(-90) scale(1,1.08)" font-size="13" font-weight="bold" fill="#111">Cell number x10<tspan font-size="8.5" dy="-4.5">6</tspan></text>
<line x1="41.80" y1="457.70" x2="41.80" y2="568.10" stroke="#1a1a1a" stroke-width="1.2"/>
<line x1="38.80" y1="458.20" x2="41.80" y2="458.20" stroke="#1a1a1a" stroke-width="1"/>
<text transform="translate(36.00,462.10) scale(0.9,1)" font-size="11" font-weight="normal" text-anchor="end" fill="#1a1a1a" stroke="#1a1a1a" stroke-width="0.25">2.0</text>
<line x1="38.80" y1="485.05" x2="41.80" y2="485.05" stroke="#1a1a1a" stroke-width="1"/>
<text transform="translate(36.00,488.95) scale(0.9,1)" font-size="11" font-weight="normal" text-anchor="end" fill="#1a1a1a" stroke="#1a1a1a" stroke-width="0.25">1.5</text>
<line x1="38.80" y1="511.90" x2="41.80" y2="511.90" stroke="#1a1a1a" stroke-width="1"/>
<text transform="translate(36.00,515.80) scale(0.9,1)" font-size="11" font-weight="normal" text-anchor="end" fill="#1a1a1a" stroke="#1a1a1a" stroke-width="0.25">1.0</text>
<line x1="38.80" y1="538.75" x2="41.80" y2="538.75" stroke="#1a1a1a" stroke-width="1"/>
<text transform="translate(36.00,542.65) scale(0.9,1)" font-size="11" font-weight="normal" text-anchor="end" fill="#1a1a1a" stroke="#1a1a1a" stroke-width="0.25">0.5</text>
<line x1="38.80" y1="565.60" x2="41.80" y2="565.60" stroke="#1a1a1a" stroke-width="1"/>
<text transform="translate(29.55,569.50) scale(0.9,1)" font-size="11" font-weight="normal" text-anchor="middle" fill="#1a1a1a" stroke="#1a1a1a" stroke-width="0.25">0</text>
<line x1="41.80" y1="565.60" x2="244.10" y2="565.60" stroke="#1a1a1a" stroke-width="1.2"/>
<line x1="61.70" y1="565.60" x2="61.70" y2="567.80" stroke="#1a1a1a" stroke-width="1"/>
<line x1="81.98" y1="565.60" x2="81.98" y2="567.80" stroke="#1a1a1a" stroke-width="1"/>
<line x1="102.26" y1="565.60" x2="102.26" y2="567.80" stroke="#1a1a1a" stroke-width="1"/>
<line x1="122.54" y1="565.60" x2="122.54" y2="567.80" stroke="#1a1a1a" stroke-width="1"/>
<line x1="142.82" y1="565.60" x2="142.82" y2="567.80" stroke="#1a1a1a" stroke-width="1"/>
<line x1="163.10" y1="565.60" x2="163.10" y2="567.80" stroke="#1a1a1a" stroke-width="1"/>
<line x1="183.38" y1="565.60" x2="183.38" y2="567.80" stroke="#1a1a1a" stroke-width="1"/>
<line x1="203.66" y1="565.60" x2="203.66" y2="567.80" stroke="#1a1a1a" stroke-width="1"/>
<line x1="223.94" y1="565.60" x2="223.94" y2="567.80" stroke="#1a1a1a" stroke-width="1"/>
<line x1="244.10" y1="565.60" x2="244.10" y2="567.80" stroke="#1a1a1a" stroke-width="1"/>
<text transform="translate(63.10,578.60) scale(0.9,1)" font-size="11" font-weight="normal" text-anchor="middle" fill="#1a1a1a" stroke="#1a1a1a" stroke-width="0.25">-</text>
<text transform="translate(81.50,578.60) scale(0.9,1)" font-size="11" font-weight="normal" text-anchor="middle" fill="#1a1a1a" stroke="#1a1a1a" stroke-width="0.25">60'</text>
<text transform="translate(103.90,578.60) scale(0.9,1)" font-size="11" font-weight="normal" text-anchor="middle" fill="#1a1a1a" stroke="#1a1a1a" stroke-width="0.25">180'</text>
<text transform="translate(123.10,578.60) scale(0.9,1)" font-size="11" font-weight="normal" text-anchor="middle" fill="#1a1a1a" stroke="#1a1a1a" stroke-width="0.25">-</text>
<text transform="translate(142.70,578.60) scale(0.9,1)" font-size="11" font-weight="normal" text-anchor="middle" fill="#1a1a1a" stroke="#1a1a1a" stroke-width="0.25">60'</text>
<text transform="translate(163.85,578.60) scale(0.9,1)" font-size="11" font-weight="normal" text-anchor="middle" fill="#1a1a1a" stroke="#1a1a1a" stroke-width="0.25">180'</text>
<text transform="translate(186.70,578.60) scale(0.9,1)" font-size="11" font-weight="normal" text-anchor="middle" fill="#1a1a1a" stroke="#1a1a1a" stroke-width="0.25">-</text>
<text transform="translate(204.65,578.60) scale(0.9,1)" font-size="11" font-weight="normal" text-anchor="middle" fill="#1a1a1a" stroke="#1a1a1a" stroke-width="0.25">60'</text>
<text transform="translate(225.80,578.60) scale(0.9,1)" font-size="11" font-weight="normal" text-anchor="middle" fill="#1a1a1a" stroke="#1a1a1a" stroke-width="0.25">180'</text>
<line x1="63.10" y1="585.80" x2="108.50" y2="585.80" stroke="#333" stroke-width="1.1"/>
<line x1="122.80" y1="585.80" x2="166.30" y2="585.80" stroke="#333" stroke-width="1.1"/>
<line x1="182.30" y1="585.80" x2="226.50" y2="585.80" stroke="#333" stroke-width="1.1"/>
<text x="81.90" y="601.00" font-size="10.5" font-weight="bold" text-anchor="middle" fill="#111" >BM</text>
<text x="144.75" y="601.00" font-size="10.5" font-weight="bold" text-anchor="middle" fill="#111" >Sp</text>
<text x="203.50" y="601.00" font-size="10.5" font-weight="bold" text-anchor="middle" fill="#111">Bl<tspan font-size="7.5" dy="-2.6" dx="0.6">§</tspan></text>
<polyline points="61.70,524.80 81.98,527.30 102.26,545.10" fill="none" stroke="#000" stroke-width="1.6" stroke-linejoin="round"/>
<polyline points="122.54,552.70 142.82,552.70 163.10,537.40" fill="none" stroke="#000" stroke-width="1.6" stroke-linejoin="round"/>
<polyline points="183.38,562.10 203.66,530.30 223.94,549.50" fill="none" stroke="#000" stroke-width="1.6" stroke-linejoin="round"/>
<circle cx="61.70" cy="497.40" r="1.7" fill="#000"/>
<circle cx="61.70" cy="509.50" r="1.7" fill="#000"/>
<circle cx="61.70" cy="522.30" r="1.7" fill="#000"/>
<circle cx="61.70" cy="524.80" r="1.7" fill="#000"/>
<circle cx="61.70" cy="529.50" r="1.7" fill="#000"/>
<circle cx="61.70" cy="530.60" r="1.7" fill="#000"/>
<circle cx="61.70" cy="540.60" r="1.7" fill="#000"/>
<circle cx="61.70" cy="543.60" r="1.7" fill="#000"/>
<circle cx="81.98" cy="496.90" r="1.7" fill="#000"/>
<circle cx="81.98" cy="497.90" r="1.7" fill="#000"/>
<circle cx="81.98" cy="522.80" r="1.7" fill="#000"/>
<circle cx="81.98" cy="524.00" r="1.7" fill="#000"/>
<circle cx="81.98" cy="540.60" r="1.7" fill="#000"/>
<circle cx="81.98" cy="541.40" r="1.7" fill="#000"/>
<circle cx="81.98" cy="550.20" r="1.7" fill="#000"/>
<circle cx="102.26" cy="537.30" r="1.7" fill="#000"/>
<circle cx="102.26" cy="544.70" r="1.7" fill="#000"/>
<circle cx="102.26" cy="546.50" r="1.7" fill="#000"/>
<circle cx="102.26" cy="548.50" r="1.7" fill="#000"/>
<circle cx="102.26" cy="550.50" r="1.7" fill="#000"/>
<circle cx="102.26" cy="552.20" r="1.7" fill="#000"/>
<circle cx="122.54" cy="546.00" r="1.7" fill="#000"/>
<circle cx="122.54" cy="550.50" r="1.7" fill="#000"/>
<circle cx="122.54" cy="552.50" r="1.7" fill="#000"/>
<circle cx="122.54" cy="554.50" r="1.7" fill="#000"/>
<circle cx="122.54" cy="555.90" r="1.7" fill="#000"/>
<circle cx="142.82" cy="548.70" r="1.7" fill="#000"/>
<circle cx="142.82" cy="550.50" r="1.7" fill="#000"/>
<circle cx="142.82" cy="552.50" r="1.7" fill="#000"/>
<circle cx="142.82" cy="554.50" r="1.7" fill="#000"/>
<circle cx="142.82" cy="555.90" r="1.7" fill="#000"/>
<circle cx="163.10" cy="529.30" r="1.7" fill="#000"/>
<circle cx="163.10" cy="533.30" r="1.7" fill="#000"/>
<circle cx="163.10" cy="537.40" r="1.7" fill="#000"/>
<circle cx="163.10" cy="541.90" r="1.7" fill="#000"/>
<circle cx="163.10" cy="544.10" r="1.7" fill="#000"/>
<circle cx="183.38" cy="559.40" r="1.7" fill="#000"/>
<circle cx="183.38" cy="561.40" r="1.7" fill="#000"/>
<circle cx="183.38" cy="563.40" r="1.7" fill="#000"/>
<circle cx="183.38" cy="564.80" r="1.7" fill="#000"/>
<circle cx="203.66" cy="509.60" r="1.7" fill="#000"/>
<circle cx="203.66" cy="511.20" r="1.7" fill="#000"/>
<circle cx="203.66" cy="512.80" r="1.7" fill="#000"/>
<circle cx="203.66" cy="530.30" r="1.7" fill="#000"/>
<circle cx="203.66" cy="537.90" r="1.7" fill="#000"/>
<circle cx="203.66" cy="544.60" r="1.7" fill="#000"/>
<circle cx="203.66" cy="548.70" r="1.7" fill="#000"/>
<circle cx="223.94" cy="532.00" r="1.7" fill="#000"/>
<circle cx="223.94" cy="538.70" r="1.7" fill="#000"/>
<circle cx="223.94" cy="549.50" r="1.7" fill="#000"/>
<circle cx="223.94" cy="563.50" r="1.7" fill="#000"/>
<polygon points="163.80,486.80 164.51,489.02 166.84,489.01 164.96,490.38 165.68,492.59 163.80,491.22 161.92,492.59 162.64,490.38 160.76,489.01 163.09,489.02" fill="#585858"/>
<polygon points="204.20,486.80 204.91,489.02 207.24,489.01 205.36,490.38 206.08,492.59 204.20,491.22 202.32,492.59 203.04,490.38 201.16,489.01 203.49,489.02" fill="#585858"/>
<text x="264.40" y="420.50" font-size="17" font-weight="bold" text-anchor="start" fill="#000" >F</text>
<text x="415.00" y="436.30" font-size="13" font-weight="bold" text-anchor="middle" fill="#111" >mNK (CD11b<tspan font-size="8.5" dy="-4.5">high</tspan><tspan dy="4.5">)</tspan></text>
<text transform="translate(292.00,560.80) rotate(-90) scale(1,1.08)" font-size="13" font-weight="bold" fill="#111">Cell number x10<tspan font-size="8.5" dy="-4.5">6</tspan></text>
<line x1="317.20" y1="460.35" x2="317.20" y2="568.50" stroke="#1a1a1a" stroke-width="1.2"/>
<line x1="314.20" y1="460.85" x2="317.20" y2="460.85" stroke="#1a1a1a" stroke-width="1"/>
<text transform="translate(309.20,464.75) scale(0.9,1)" font-size="11" font-weight="normal" text-anchor="end" fill="#1a1a1a" stroke="#1a1a1a" stroke-width="0.25">5</text>
<line x1="314.20" y1="481.88" x2="317.20" y2="481.88" stroke="#1a1a1a" stroke-width="1"/>
<text transform="translate(309.20,485.78) scale(0.9,1)" font-size="11" font-weight="normal" text-anchor="end" fill="#1a1a1a" stroke="#1a1a1a" stroke-width="0.25">4</text>
<line x1="314.20" y1="502.91" x2="317.20" y2="502.91" stroke="#1a1a1a" stroke-width="1"/>
<text transform="translate(309.20,506.81) scale(0.9,1)" font-size="11" font-weight="normal" text-anchor="end" fill="#1a1a1a" stroke="#1a1a1a" stroke-width="0.25">3</text>
<line x1="314.20" y1="523.94" x2="317.20" y2="523.94" stroke="#1a1a1a" stroke-width="1"/>
<text transform="translate(309.20,527.84) scale(0.9,1)" font-size="11" font-weight="normal" text-anchor="end" fill="#1a1a1a" stroke="#1a1a1a" stroke-width="0.25">2</text>
<line x1="314.20" y1="544.97" x2="317.20" y2="544.97" stroke="#1a1a1a" stroke-width="1"/>
<text transform="translate(309.20,548.87) scale(0.9,1)" font-size="11" font-weight="normal" text-anchor="end" fill="#1a1a1a" stroke="#1a1a1a" stroke-width="0.25">1</text>
<line x1="314.20" y1="566.00" x2="317.20" y2="566.00" stroke="#1a1a1a" stroke-width="1"/>
<text transform="translate(309.20,569.90) scale(0.9,1)" font-size="11" font-weight="normal" text-anchor="end" fill="#1a1a1a" stroke="#1a1a1a" stroke-width="0.25">0</text>
<line x1="317.20" y1="566.00" x2="516.00" y2="566.00" stroke="#1a1a1a" stroke-width="1.2"/>
<line x1="336.60" y1="566.00" x2="336.60" y2="568.20" stroke="#1a1a1a" stroke-width="1"/>
<line x1="356.43" y1="566.00" x2="356.43" y2="568.20" stroke="#1a1a1a" stroke-width="1"/>
<line x1="376.26" y1="566.00" x2="376.26" y2="568.20" stroke="#1a1a1a" stroke-width="1"/>
<line x1="396.09" y1="566.00" x2="396.09" y2="568.20" stroke="#1a1a1a" stroke-width="1"/>
<line x1="415.92" y1="566.00" x2="415.92" y2="568.20" stroke="#1a1a1a" stroke-width="1"/>
<line x1="435.75" y1="566.00" x2="435.75" y2="568.20" stroke="#1a1a1a" stroke-width="1"/>
<line x1="455.58" y1="566.00" x2="455.58" y2="568.20" stroke="#1a1a1a" stroke-width="1"/>
<line x1="475.41" y1="566.00" x2="475.41" y2="568.20" stroke="#1a1a1a" stroke-width="1"/>
<line x1="495.24" y1="566.00" x2="495.24" y2="568.20" stroke="#1a1a1a" stroke-width="1"/>
<line x1="515.10" y1="566.00" x2="515.10" y2="568.20" stroke="#1a1a1a" stroke-width="1"/>
<text transform="translate(336.60,578.40) scale(0.9,1)" font-size="11" font-weight="normal" text-anchor="middle" fill="#1a1a1a" stroke="#1a1a1a" stroke-width="0.25">-</text>
<text transform="translate(356.70,578.40) scale(0.9,1)" font-size="11" font-weight="normal" text-anchor="middle" fill="#1a1a1a" stroke="#1a1a1a" stroke-width="0.25">60'</text>
<text transform="translate(376.80,578.40) scale(0.9,1)" font-size="11" font-weight="normal" text-anchor="middle" fill="#1a1a1a" stroke="#1a1a1a" stroke-width="0.25">180'</text>
<text transform="translate(396.90,578.40) scale(0.9,1)" font-size="11" font-weight="normal" text-anchor="middle" fill="#1a1a1a" stroke="#1a1a1a" stroke-width="0.25">-</text>
<text transform="translate(415.50,578.40) scale(0.9,1)" font-size="11" font-weight="normal" text-anchor="middle" fill="#1a1a1a" stroke="#1a1a1a" stroke-width="0.25">60'</text>
<text transform="translate(437.00,578.40) scale(0.9,1)" font-size="11" font-weight="normal" text-anchor="middle" fill="#1a1a1a" stroke="#1a1a1a" stroke-width="0.25">180'</text>
<text transform="translate(456.10,578.40) scale(0.9,1)" font-size="11" font-weight="normal" text-anchor="middle" fill="#1a1a1a" stroke="#1a1a1a" stroke-width="0.25">-</text>
<text transform="translate(477.00,578.40) scale(0.9,1)" font-size="11" font-weight="normal" text-anchor="middle" fill="#1a1a1a" stroke="#1a1a1a" stroke-width="0.25">60'</text>
<text transform="translate(497.50,578.40) scale(0.9,1)" font-size="11" font-weight="normal" text-anchor="middle" fill="#1a1a1a" stroke="#1a1a1a" stroke-width="0.25">180'</text>
<line x1="337.30" y1="585.80" x2="380.80" y2="585.80" stroke="#333" stroke-width="1.1"/>
<line x1="396.20" y1="585.80" x2="440.00" y2="585.80" stroke="#333" stroke-width="1.1"/>
<line x1="454.60" y1="585.80" x2="498.80" y2="585.80" stroke="#333" stroke-width="1.1"/>
<text x="355.40" y="601.00" font-size="10.5" font-weight="bold" text-anchor="middle" fill="#111" >BM</text>
<text x="418.50" y="601.00" font-size="10.5" font-weight="bold" text-anchor="middle" fill="#111" >Sp</text>
<text x="475.75" y="601.00" font-size="10.5" font-weight="bold" text-anchor="middle" fill="#111">Bl<tspan font-size="7.5" dy="-2.6" dx="0.6">§</tspan></text>
<polyline points="336.60,537.80 356.43,551.70 376.26,551.70" fill="none" stroke="#000" stroke-width="1.6" stroke-linejoin="round"/>
<polyline points="396.09,540.60 415.92,541.00 435.75,514.30" fill="none" stroke="#000" stroke-width="1.6" stroke-linejoin="round"/>
<polyline points="455.58,546.20 475.41,516.50 495.24,509.00" fill="none" stroke="#000" stroke-width="1.6" stroke-linejoin="round"/>
<circle cx="336.60" cy="529.50" r="1.7" fill="#000"/>
<circle cx="336.60" cy="531.50" r="1.7" fill="#000"/>
<circle cx="336.60" cy="533.50" r="1.7" fill="#000"/>
<circle cx="336.60" cy="535.50" r="1.7" fill="#000"/>
<circle cx="336.60" cy="537.50" r="1.7" fill="#000"/>
<circle cx="336.60" cy="539.50" r="1.7" fill="#000"/>
<circle cx="336.60" cy="541.50" r="1.7" fill="#000"/>
<circle cx="336.60" cy="543.50" r="1.7" fill="#000"/>
<circle cx="356.43" cy="543.60" r="1.7" fill="#000"/>
<circle cx="356.43" cy="548.00" r="1.7" fill="#000"/>
<circle cx="356.43" cy="550.00" r="1.7" fill="#000"/>
<circle cx="356.43" cy="552.00" r="1.7" fill="#000"/>
<circle cx="356.43" cy="554.50" r="1.7" fill="#000"/>
<circle cx="356.43" cy="561.30" r="1.7" fill="#000"/>
<circle cx="376.26" cy="548.00" r="1.7" fill="#000"/>
<circle cx="376.26" cy="550.00" r="1.7" fill="#000"/>
<circle cx="376.26" cy="552.00" r="1.7" fill="#000"/>
<circle cx="376.26" cy="554.00" r="1.7" fill="#000"/>
<circle cx="376.26" cy="556.30" r="1.7" fill="#000"/>
<circle cx="396.09" cy="533.00" r="1.7" fill="#000"/>
<circle cx="396.09" cy="535.20" r="1.7" fill="#000"/>
<circle cx="396.09" cy="537.20" r="1.7" fill="#000"/>
<circle cx="396.09" cy="539.20" r="1.7" fill="#000"/>
<circle cx="396.09" cy="541.20" r="1.7" fill="#000"/>
<circle cx="396.09" cy="543.20" r="1.7" fill="#000"/>
<circle cx="396.09" cy="546.00" r="1.7" fill="#000"/>
<circle cx="396.09" cy="550.90" r="1.7" fill="#000"/>
<circle cx="415.92" cy="533.00" r="1.7" fill="#000"/>
<circle cx="415.92" cy="535.00" r="1.7" fill="#000"/>
<circle cx="415.92" cy="537.00" r="1.7" fill="#000"/>
<circle cx="415.92" cy="539.00" r="1.7" fill="#000"/>
<circle cx="415.92" cy="541.60" r="1.7" fill="#000"/>
<circle cx="415.92" cy="547.00" r="1.7" fill="#000"/>
<circle cx="415.92" cy="549.20" r="1.7" fill="#000"/>
<circle cx="435.75" cy="506.50" r="1.7" fill="#000"/>
<circle cx="435.75" cy="510.40" r="1.7" fill="#000"/>
<circle cx="435.75" cy="512.40" r="1.7" fill="#000"/>
<circle cx="435.75" cy="514.40" r="1.7" fill="#000"/>
<circle cx="435.75" cy="516.80" r="1.7" fill="#000"/>
<circle cx="455.58" cy="537.30" r="1.7" fill="#000"/>
<circle cx="455.58" cy="540.60" r="1.7" fill="#000"/>
<circle cx="455.58" cy="542.60" r="1.7" fill="#000"/>
<circle cx="455.58" cy="544.60" r="1.7" fill="#000"/>
<circle cx="455.58" cy="546.60" r="1.7" fill="#000"/>
<circle cx="455.58" cy="548.60" r="1.7" fill="#000"/>
<circle cx="455.58" cy="550.60" r="1.7" fill="#000"/>
<circle cx="455.58" cy="553.00" r="1.7" fill="#000"/>
<circle cx="455.58" cy="556.70" r="1.7" fill="#000"/>
<circle cx="455.58" cy="558.20" r="1.7" fill="#000"/>
<circle cx="475.41" cy="461.80" r="1.7" fill="#000"/>
<circle cx="475.41" cy="507.50" r="1.7" fill="#000"/>
<circle cx="475.41" cy="515.70" r="1.7" fill="#000"/>
<circle cx="475.41" cy="517.50" r="1.7" fill="#000"/>
<circle cx="475.41" cy="534.80" r="1.7" fill="#000"/>
<circle cx="475.41" cy="539.30" r="1.7" fill="#000"/>
<circle cx="495.24" cy="462.80" r="1.7" fill="#000"/>
<circle cx="495.24" cy="505.30" r="1.7" fill="#000"/>
<circle cx="495.24" cy="507.00" r="1.7" fill="#000"/>
<circle cx="495.24" cy="509.50" r="1.7" fill="#000"/>
<circle cx="495.24" cy="518.20" r="1.7" fill="#000"/>
<circle cx="495.24" cy="521.40" r="1.7" fill="#000"/>
<circle cx="495.24" cy="533.10" r="1.7" fill="#000"/>
<polygon points="356.80,521.60 357.51,523.82 359.84,523.81 357.96,525.18 358.68,527.39 356.80,526.02 354.92,527.39 355.64,525.18 353.76,523.81 356.09,523.82" fill="#585858"/>
<polygon points="376.10,521.60 376.81,523.82 379.14,523.81 377.26,525.18 377.98,527.39 376.10,526.02 374.22,527.39 374.94,525.18 373.06,523.81 375.39,523.82" fill="#585858"/>
<polygon points="434.20,480.20 434.91,482.42 437.24,482.41 435.36,483.78 436.08,485.99 434.20,484.62 432.32,485.99 433.04,483.78 431.16,482.41 433.49,482.42" fill="#585858"/>
<polygon points="475.50,445.40 476.21,447.62 478.54,447.61 476.66,448.98 477.38,451.19 475.50,449.82 473.62,451.19 474.34,448.98 472.46,447.61 474.79,447.62" fill="#585858"/>
<polygon points="495.20,445.40 495.91,447.62 498.24,447.61 496.36,448.98 497.08,451.19 495.20,449.82 493.32,451.19 494.04,448.98 492.16,447.61 494.49,447.62" fill="#585858"/>
</g>
</svg></body></html>
